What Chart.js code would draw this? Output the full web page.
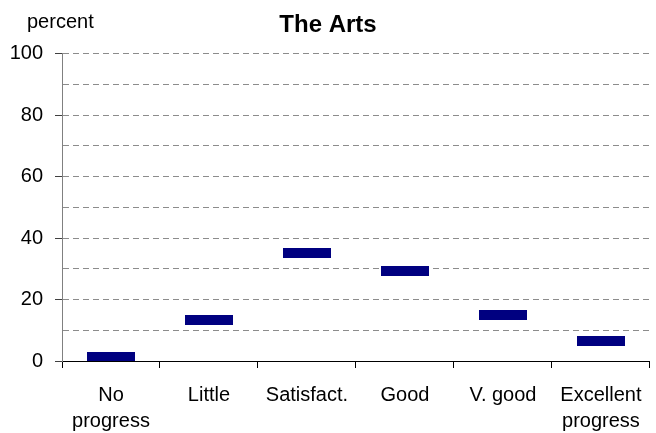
<!DOCTYPE html>
<html>
<head>
<meta charset="utf-8">
<script src="https://cdn.jsdelivr.net/npm/chart.js@4"></script>
<style>
  html, body { margin: 0; padding: 0; background: #fff; }
  #wrap { width: 656px; height: 433px; }
</style>
</head>
<body>
<div id="wrap"><canvas id="chart" width="656" height="433"></canvas></div>
<script>
const categories = [['No', 'progress'], 'Little', 'Satisfact.', 'Good', 'V. good', ['Excellent', 'progress']];
const artsValues = [1.3, 13.2, 35.3, 29.2, 15.0, 6.4];
const yTicks = [0, 20, 40, 60, 80, 100];

const FONT = '"Liberation Sans", Arial, sans-serif';

// navy dash marker used for every point
const marker = document.createElement('canvas');
marker.width = 48;
marker.height = 10;
const mctx = marker.getContext('2d');
mctx.fillStyle = '#000080';
mctx.fillRect(0, 0, 48, 10);

// "percent" label above the y axis
const unitLabel = {
    id: 'unitLabel',
    afterDraw(chart) {
        const ctx = chart.ctx;
        ctx.save();
        ctx.font = '20px ' + FONT;
        ctx.fillStyle = '#000';
        ctx.textAlign = 'left';
        ctx.textBaseline = 'alphabetic';
        ctx.fillText('percent', 27, 28);
        ctx.restore();
    }
};

new Chart(document.getElementById('chart'), {
    type: 'line',
    data: {
        labels: categories,
        datasets: [{
            label: 'The Arts',
            data: artsValues,
            showLine: false,
            pointStyle: marker,
            pointRadius: 5,
            pointHoverRadius: 5
        }]
    },
    options: {
        responsive: false,
        animation: false,
        events: [],
        layout: { padding: 0 },
        plugins: {
            legend: { display: false },
            tooltip: { enabled: false },
            title: {
                display: true,
                text: 'The Arts',
                color: '#000',
                font: { family: FONT, size: 24, weight: 'bold' },
                padding: { top: 11, bottom: 14 }
            }
        },
        scales: {
            x: {
                offset: true,
                afterFit: s => { s.height = 72; },
                grid: {
                    offset: true,
                    drawOnChartArea: false,
                    tickLength: 7,
                    tickColor: '#000'
                },
                border: { color: '#000', width: 1 },
                ticks: {
                    color: '#000',
                    padding: 14,
                    maxRotation: 0,
                    autoSkip: false,
                    font: { family: FONT, size: 20, lineHeight: 1.32 }
                }
            },
            y: {
                min: 0,
                max: 100,
                afterFit: s => { s.width = 62; },
                grid: {
                    color: c => c.tick.value === 0 ? 'rgba(0,0,0,0)' : '#8c8c8c',
                    tickBorderDash: [],
                    tickLength: 7,
                    tickColor: c => yTicks.includes(c.tick.value) ? '#404040' : 'rgba(0,0,0,0)'
                },
                border: { color: '#808080', width: 1, dash: [6, 4] },
                ticks: {
                    stepSize: 10,
                    color: '#000',
                    padding: 12,
                    font: { family: FONT, size: 20 },
                    callback: v => yTicks.includes(v) ? v : ''
                }
            }
        }
    },
    plugins: [unitLabel]
});
</script>
</body>
</html>
